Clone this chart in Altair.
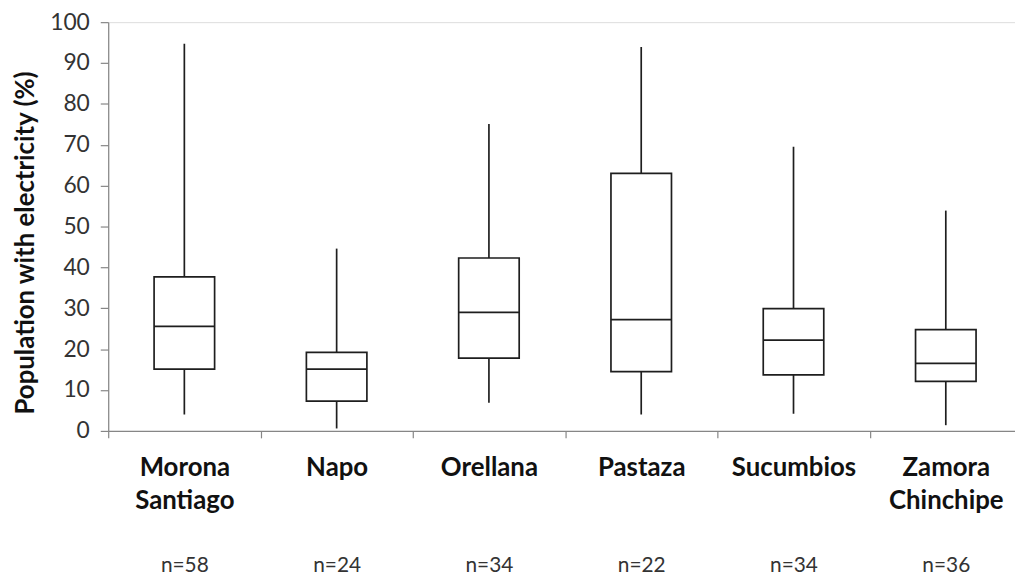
import altair as alt
import pandas as pd

regions = ["Morona Santiago", "Napo", "Orellana", "Pastaza", "Sucumbios", "Zamora Chinchipe"]
n_labels = ["n=58", "n=24", "n=34", "n=22", "n=34 ", "n=36"]
minimum = [4.0, 0.6, 6.9, 4.0, 4.2, 1.4]
q1 = [15.1, 7.3, 17.8, 14.5, 13.7, 12.1]
median = [25.6, 15.1, 29.0, 27.2, 22.2, 16.5]
q3 = [37.7, 19.2, 42.3, 63.0, 29.9, 24.8]
maximum = [94.7, 44.6, 75.1, 93.9, 69.5, 53.9]

df = pd.DataFrame({
    "region": regions, "nlab": n_labels, "lo": minimum, "q1": q1,
    "med": median, "q3": q3, "hi": maximum,
})

FONT = "Lato"
AX = "#868686"
INK = "#1e1e1e"
BOXW = 61
XRANGE = [0, 921]

xscale = alt.Scale(range=XRANGE, paddingInner=0, paddingOuter=0)
x = alt.X("region:N", sort=regions, scale=xscale,
          axis=alt.Axis(title=None, labelAngle=0, tickBand="extent",
                        labelExpr="split(datum.label, ' ')",
                        labelFont=FONT, labelFontSize=26, labelFontWeight="bold",
                        labelColor="#111111", labelLineHeight=33,
                        labelBaseline="top", labelPadding=17, tickSize=7,
                        domainColor=AX, tickColor=AX, domainWidth=1.2, tickWidth=1.2))
yscale = alt.Scale(domain=[0, 100], nice=False)
yaxis = alt.Axis(values=list(range(0, 101, 10)), grid=False, tickSize=8,
                 labelPadding=11, labelFont=FONT, labelFontSize=23, labelColor="#333333",
                 domainColor=AX, tickColor=AX, domainWidth=1.2, tickWidth=1.2,
                 title="Population with electricity (%)", titleFont=FONT,
                 titleFontSize=26, titleFontWeight="bold", titleColor="#111111",
                 titleAngle=-90, titleX=-83, titleY=222, titleAlign="center",
                 titleBaseline="middle")

base = alt.Chart(df)

whisker = base.mark_rule(color=INK, strokeWidth=1.7, opacity=1).encode(
    x=x, y=alt.Y("lo:Q", scale=yscale, axis=yaxis), y2="hi:Q")
box = base.mark_bar(fill="white", stroke=INK, strokeWidth=1.7, width=BOXW,
                    opacity=1).encode(
    x=x, y=alt.Y("q1:Q", scale=yscale), y2="q3:Q")
med = base.mark_tick(color=INK, size=BOXW, thickness=1.8, opacity=1).encode(
    x=x, y=alt.Y("med:Q", scale=yscale))

boxes = alt.layer(whisker, box, med)

nlayer = base.mark_point(opacity=0).encode(
    x=alt.X("nlab:N", sort=n_labels,
            scale=alt.Scale(range=XRANGE, paddingInner=0, paddingOuter=0),
            axis=alt.Axis(orient="bottom", title=None, domain=False, ticks=False,
                          labelAngle=0, labelFont=FONT, labelFontSize=21,
                          labelColor="#333333", labelBaseline="middle",
                          labelPadding=136)),
    y=alt.Y("lo:Q", scale=yscale))

chart = alt.layer(boxes, nlayer).resolve_scale(x="independent").resolve_axis(
    x="independent").properties(
    width=914, height=412,
    autosize=alt.AutoSizeParams(type="none"),
    padding={"left": 101, "top": 12, "right": 0, "bottom": 148},
).configure_view(stroke=None).configure(background="white")

chart.save("out.html", embed_options={"renderer": "svg", "actions": False})
